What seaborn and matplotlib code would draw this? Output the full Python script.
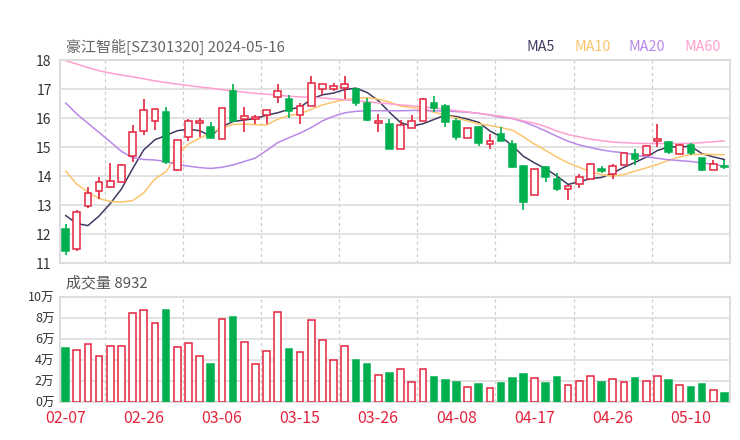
import matplotlib
matplotlib.use("Agg")

import numpy as np
import pandas as pd
import matplotlib.pyplot as plt
import seaborn as sns

sns.set_style("whitegrid")
plt.rcParams["font.family"] = ["Noto Sans CJK SC", "DejaVu Sans"]

TITLE = "豪江智能[SZ301320] 2024-05-16"
VOLUME_TITLE = "成交量 8932"
tick_labels = ["02-07", "02-26", "03-06", "03-15", "03-26",
               "04-08", "04-17", "04-26", "05-10"]

open_ = [12.18, 11.48, 12.98, 13.48, 13.62, 13.79, 14.69, 15.54, 15.91, 16.19,
         14.19, 15.36, 15.84, 15.68, 15.29, 16.93, 15.97, 15.96, 16.10, 16.73,
         16.64, 16.09, 16.41, 16.99, 17.01, 17.04, 17.01, 16.52, 15.84, 15.81,
         14.92, 15.65, 15.90, 16.51, 16.40, 15.90, 15.32, 15.68, 15.09, 15.44,
         15.12, 14.33, 13.34, 14.30, 13.91, 13.56, 13.71, 13.91, 14.23, 14.08,
         14.39, 14.77, 14.74, 15.19, 15.16, 14.77, 15.07, 14.61, 14.22, 14.35]
close = [11.43, 12.75, 13.42, 13.81, 13.82, 14.39, 15.53, 16.29, 16.32, 14.48,
         15.23, 15.88, 15.91, 15.32, 16.35, 15.90, 16.06, 16.04, 16.26, 16.93,
         16.25, 16.42, 17.19, 17.17, 17.12, 17.16, 16.52, 15.92, 15.90, 14.92,
         15.77, 15.91, 16.64, 16.33, 15.85, 15.35, 15.66, 15.13, 15.20, 15.22,
         14.31, 13.09, 14.23, 13.96, 13.55, 13.65, 13.96, 14.42, 14.16, 14.34,
         14.79, 14.60, 15.04, 15.29, 14.82, 15.06, 14.79, 14.19, 14.40, 14.31]
high = [12.35, 12.84, 13.62, 13.96, 14.45, 14.40, 15.75, 16.67, 16.32, 16.39,
        15.24, 15.96, 16.00, 15.85, 16.36, 17.18, 16.39, 16.10, 16.26, 17.17,
        16.81, 16.52, 17.46, 17.17, 17.22, 17.46, 17.01, 16.69, 16.13, 15.97,
        15.92, 16.10, 16.69, 16.75, 16.48, 16.00, 15.67, 15.73, 15.44, 15.68,
        15.25, 14.39, 14.24, 14.33, 14.11, 13.66, 14.08, 14.46, 14.36, 14.40,
        14.80, 14.94, 15.08, 15.79, 15.19, 15.12, 15.14, 14.61, 14.54, 14.54]
low = [11.29, 11.40, 12.89, 13.21, 13.59, 13.78, 14.48, 15.40, 15.58, 14.42,
       14.18, 15.21, 15.36, 15.30, 15.28, 15.87, 15.51, 15.81, 15.79, 16.52,
       16.00, 15.81, 16.40, 16.79, 16.92, 16.65, 16.43, 15.90, 15.52, 14.92,
       14.92, 15.65, 15.90, 16.21, 15.69, 15.25, 15.31, 15.02, 14.93, 15.21,
       14.29, 12.83, 13.33, 13.79, 13.50, 13.16, 13.58, 13.91, 14.10, 13.91,
       14.38, 14.37, 14.74, 15.00, 14.75, 14.77, 14.72, 14.16, 14.22, 14.23]
# volume in 万
volume = [5.17, 4.92, 5.49, 4.38, 5.36, 5.30, 8.52, 8.80, 7.57, 8.74,
          5.20, 5.58, 4.42, 3.63, 7.92, 8.08, 5.71, 3.63, 4.89, 8.61,
          5.05, 4.73, 7.82, 5.93, 3.97, 5.36, 4.04, 3.60, 2.59, 2.74,
          3.15, 1.89, 3.15, 2.40, 2.08, 1.92, 1.42, 1.70, 1.32, 1.77,
          2.33, 2.62, 2.30, 1.83, 2.37, 1.61, 1.96, 2.43, 1.89, 2.21,
          1.89, 2.30, 1.99, 2.49, 2.08, 1.58, 1.45, 1.70, 1.14, 0.8932]

ma5 = [12.64, 12.36, 12.29, 12.62, 13.05, 13.55, 14.25, 14.90, 15.25, 15.40,
       15.56, 15.62, 15.56, 15.38, 15.70, 15.88, 15.93, 15.98, 16.10, 16.18,
       16.30, 16.37, 16.65, 16.80, 16.86, 16.98, 17.03, 16.88, 16.60, 16.20,
       15.84, 15.72, 15.80, 15.95, 16.10, 16.05, 15.96, 15.85, 15.55, 15.35,
       15.05, 14.68, 14.45, 14.25, 14.00, 13.71, 13.80, 13.91, 13.95, 14.10,
       14.30, 14.47, 14.65, 14.88, 15.00, 15.01, 15.02, 14.77, 14.66, 14.57]
ma10 = [14.17, 13.72, 13.45, 13.22, 13.12, 13.10, 13.15, 13.42, 13.90, 14.15,
        14.75, 15.10, 15.30, 15.48, 15.65, 15.78, 15.79, 15.77, 15.76, 15.96,
        16.08, 16.15, 16.30, 16.45, 16.55, 16.63, 16.68, 16.70, 16.65, 16.55,
        16.41, 16.36, 16.30, 16.20, 16.10, 16.00, 15.90, 15.80, 15.74, 15.67,
        15.58, 15.35, 15.10, 14.88, 14.65, 14.45, 14.30, 14.15, 14.05, 13.99,
        14.05, 14.17, 14.28, 14.40, 14.54, 14.66, 14.74, 14.75, 14.74, 14.73]
ma20 = [16.52, 16.14, 15.82, 15.50, 15.18, 14.85, 14.63, 14.57, 14.55, 14.50,
        14.40, 14.34, 14.29, 14.26, 14.30, 14.38, 14.50, 14.62, 14.88, 15.15,
        15.32, 15.48, 15.67, 15.90, 16.06, 16.18, 16.23, 16.25, 16.25, 16.25,
        16.25, 16.26, 16.26, 16.25, 16.24, 16.22, 16.20, 16.16, 16.10, 16.03,
        15.98, 15.87, 15.72, 15.55, 15.37, 15.20, 15.07, 14.98, 14.90, 14.84,
        14.80, 14.72, 14.66, 14.61, 14.56, 14.53, 14.50, 14.45, 14.40, 14.34]
ma60 = [17.98, 17.86, 17.74, 17.63, 17.55, 17.48, 17.42, 17.35, 17.28, 17.22,
        17.17, 17.12, 17.07, 17.03, 16.98, 16.93, 16.89, 16.85, 16.82, 16.79,
        16.75, 16.73, 16.71, 16.69, 16.66, 16.63, 16.60, 16.56, 16.52, 16.49,
        16.45, 16.42, 16.38, 16.34, 16.30, 16.25, 16.21, 16.16, 16.11, 16.06,
        15.99, 15.90, 15.82, 15.70, 15.55, 15.43, 15.35, 15.27, 15.22, 15.17,
        15.15, 15.13, 15.12, 15.12, 15.12, 15.12, 15.13, 15.15, 15.18, 15.21]

RED = "#e4233d"
GREEN = "#00b04f"
GRID = "#dddddd"
MA_COLORS = {"MA5": "#3f3a60", "MA10": "#fcc56c", "MA20": "#b888e8", "MA60": "#ff9fcf"}


def style_axes(ax):
    ax.set_facecolor("white")
    ax.grid(False)
    for side, spine in ax.spines.items():
        spine.set_color(GRID)
        spine.set_linewidth(1.5)
    ax.tick_params(length=0, labelsize=10, colors="#333333", pad=6)


def main():
    df = pd.DataFrame({"open": open_, "high": high, "low": low,
                       "close": close, "volume": volume})
    df["x"] = np.arange(len(df))
    up = df["close"] >= df["open"]
    colors = np.where(up, RED, GREEN)
    faces = np.where(up, "white", GREEN)

    fig = plt.figure(figsize=(7.4, 4.4), dpi=100)
    ax = fig.add_axes([60 / 740, 1 - 263 / 440, 670 / 740, 203 / 440])
    axv = fig.add_axes([60 / 740, 1 - 402 / 440, 670 / 740, 105 / 440])

    for a in (ax, axv):
        style_axes(a)
        a.set_xlim(-0.5, len(df) - 0.5)
        for k in np.arange(3.5, len(df), 7):
            a.axvline(k, color="#cccccc", lw=0.9, ls=(0, (2.5, 2.5)), zorder=0)

    # price panel
    ax.set_ylim(11, 18)
    ax.set_yticks(range(11, 19))
    for v in range(12, 18):
        ax.axhline(v, color=GRID, lw=1.2, zorder=0)
    ax.set_xticks([])

    ma_df = pd.DataFrame({"x": df["x"], "MA5": ma5, "MA10": ma10,
                          "MA20": ma20, "MA60": ma60})
    ma_long = ma_df.melt(id_vars="x", var_name="ma", value_name="price")
    sns.lineplot(data=ma_long, x="x", y="price", hue="ma", palette=MA_COLORS,
                 linewidth=1.1, legend=False, ax=ax, zorder=2)

    ax.vlines(df["x"], df["low"], df["high"], colors=colors, lw=1.2, zorder=3)
    body = (df["close"] - df["open"]).abs().clip(lower=0.03)
    ax.bar(df["x"], body, bottom=df[["open", "close"]].min(axis=1), width=0.6,
           color=faces, edgecolor=colors, linewidth=1.1, zorder=4)
    ax.set_xlabel("")
    ax.set_ylabel("")

    # volume panel
    axv.set_ylim(0, 10)
    axv.set_yticks(range(0, 11, 2))
    axv.set_yticklabels([f"{v}万" for v in range(0, 11, 2)], fontsize=9)
    axv.tick_params(axis="y", pad=4)
    for v in range(2, 10, 2):
        axv.axhline(v, color=GRID, lw=1.2, zorder=0)
    axv.bar(df["x"], df["volume"], width=0.6, color=faces, edgecolor=colors,
            linewidth=1.1, zorder=3)
    axv.set_xticks(range(0, len(df), 7)[:len(tick_labels)])
    axv.set_xticklabels(tick_labels, color=RED, fontsize=11.5)
    axv.tick_params(axis="x", pad=5.5, colors=RED)

    fig.text(66 / 740, 1 - 47 / 440, TITLE, fontsize=10.8, color="#666666", va="center")
    fig.text(66 / 740, 1 - 283 / 440, VOLUME_TITLE, fontsize=10.8, color="#555555",
             va="center")
    for name, x0 in zip(MA_COLORS, [527, 574, 629, 684]):
        fig.text(x0 / 740, 1 - 47 / 440, name, fontsize=10.3, color=MA_COLORS[name],
                 va="center")

    fig.savefig("out.png", dpi=100)
    plt.close(fig)


if __name__ == "__main__":
    main()
